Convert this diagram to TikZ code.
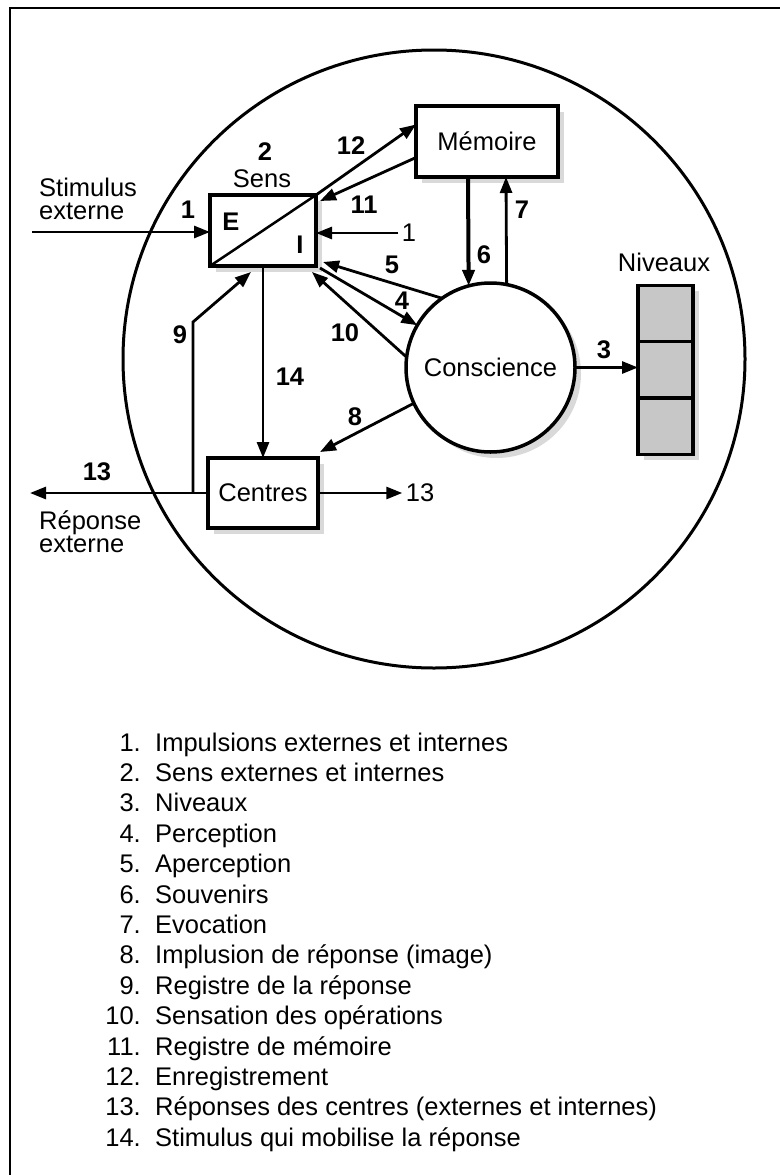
\documentclass[tikz,border=0pt]{standalone}
\usepackage{fontspec}
\setmainfont{Liberation Sans}
\usetikzlibrary{shapes,arrows,arrows.meta,positioning,shadows}
\newcommand{\grand}{\fontsize{25.5}{29}\selectfont}
\tikzstyle{boite} = [draw, line width=3.5pt, fill=white, rectangle, inner sep=0pt, outer sep=0pt, font=\grand, drop shadow={opacity=0.3, shadow xshift=6pt, shadow yshift=-6pt}]
\tikzstyle{niveau} = [boite, fill=black!22, minimum width=55pt, minimum height=56.3pt]
\tikzstyle{fleche} = [line width=2.8pt, -{Triangle[length=16pt,width=12pt]}]
\tikzstyle{num} = [font=\grand\bfseries, inner sep=1pt]
\tikzstyle{etiq} = [align=left, inner sep=0pt, font=\fontsize{25.5}{23}\selectfont]

\begin{document}
\begin{tikzpicture}[x=1pt, y=-1pt, font=\grand]
\useasboundingbox (0,0) rectangle (779,1175);
\draw[line width=1.8pt] (10,8) rectangle (800,1200);
\draw[line width=3pt] (434,359) circle[x radius=311pt, y radius=309pt];

% les boites
\node[boite, minimum width=106pt, minimum height=71pt] (sens) at (263,230.5) {};
\draw[line width=2.5pt] (sens.south west) -- (sens.north east);
\node[num] (e) at (231,222) {E};
\node[num] (i) at (300,245) {I};
\node (senslbl) at (262,179) {Sens};
\node[num] (n2) at (265,152) {2};
\node[boite, minimum width=142pt, minimum height=71pt] (memoire) at (487,141.5) {Mémoire};
\node[boite, circle, minimum size=169pt] (conscience) at (490.5,367.5) {Conscience};
\node[boite, minimum width=110pt, minimum height=70pt] (centres) at (263,493) {Centres};
\node[niveau] (niv1) at (665.5,313.5) {};
\node[niveau, below=0pt of niv1] (niv2) {};
\node[niveau, below=0pt of niv2] (niv3) {};
\node (nivlbl) at (664,262) {Niveaux};

% stimulus et reponse
\node[etiq, anchor=west] (stim) at (39,198.5) {Stimulus\\externe};
\coordinate (stimin) at (32,232);
\draw[fleche] (stimin) -- (stimin -| sens.west);
\node[num] (n1) at (188,210) {1};
\node[etiq, anchor=west] (rep) at (39,531.5) {Réponse\\externe};
\coordinate (repout) at (30,493);
\draw[fleche] (centres.west) -- (repout);
\node[num] (n13a) at (97,472) {13};
\node (n13b) at (420,493) {13};
\draw[fleche] (centres.east) -- (n13b.west);
\node (i1) at (409,233) {1};
\draw[fleche] (i1.west) -- (i1.west -| sens.east);

% sens et memoire
\draw[fleche] (sens.north east) -- ([yshift=17pt]memoire.west);
\node[num] (n12) at (351,146) {12};
\draw[fleche] ([yshift=-16pt]memoire.west) -- ([xshift=4pt,yshift=-6pt]sens.north east);
\node[num] (n11) at (364,205) {11};
\draw[fleche, line width=4pt] ([xshift=-19pt]memoire.south) -- (conscience.105);
\node[num] (n6) at (484,255) {6};
\draw[fleche] (conscience.79) -- ([xshift=19pt]memoire.south);
\node[num] (n7) at (522,210) {7};

% sens et conscience
\draw[fleche] (conscience.125) -- ([xshift=7pt,yshift=4pt]sens.south east);
\node[num] (n5) at (392,265) {5};
\draw[fleche] ([xshift=4pt,yshift=-2pt]sens.south east) -- (conscience.150);
\node[num] (n4) at (402,301) {4};
\draw[fleche] (conscience.173) -- ([xshift=-4pt,yshift=-6pt]sens.south east);
\node[num] (n10) at (345,333) {10};
\draw[fleche] (conscience.east) -- (conscience.east -| niv2.west);
\node[num] (n3) at (604,350) {3};

% centres
\draw[fleche] (sens.south) -- (centres.north);
\node[num] (n14) at (290,377) {14};
\draw[fleche] (conscience.205) -- ([xshift=2pt,yshift=6pt]centres.north east);
\node[num] (n8) at (355,417) {8};
\coordinate (coin) at (193,322);
\draw[fleche] (coin |- centres.west) -- (coin) -- ([xshift=-12pt,yshift=-6pt]sens.south);
\node[num] (n9) at (180,335) {9};

% legende
\foreach \n/\txt [count=\k] in {1/Impulsions externes et internes, 2/Sens externes et internes, 3/Niveaux, 4/Perception, 5/Aperception, 6/Souvenirs, 7/Evocation, 8/Implusion de réponse (image), 9/Registre de la réponse, 10/Sensation des opérations, 11/Registre de mémoire, 12/Enregistrement, 13/Réponses des centres (externes et internes), 14/Stimulus qui mobilise la réponse}
{
  \node[anchor=base east, inner sep=0pt] (leg\k) at (141,{751+30.4*(\k-1)}) {\n.};
  \node[anchor=base west, inner sep=0pt] (txt\k) at (155,{751+30.4*(\k-1)}) {\txt};
}
\end{tikzpicture}
\end{document}
